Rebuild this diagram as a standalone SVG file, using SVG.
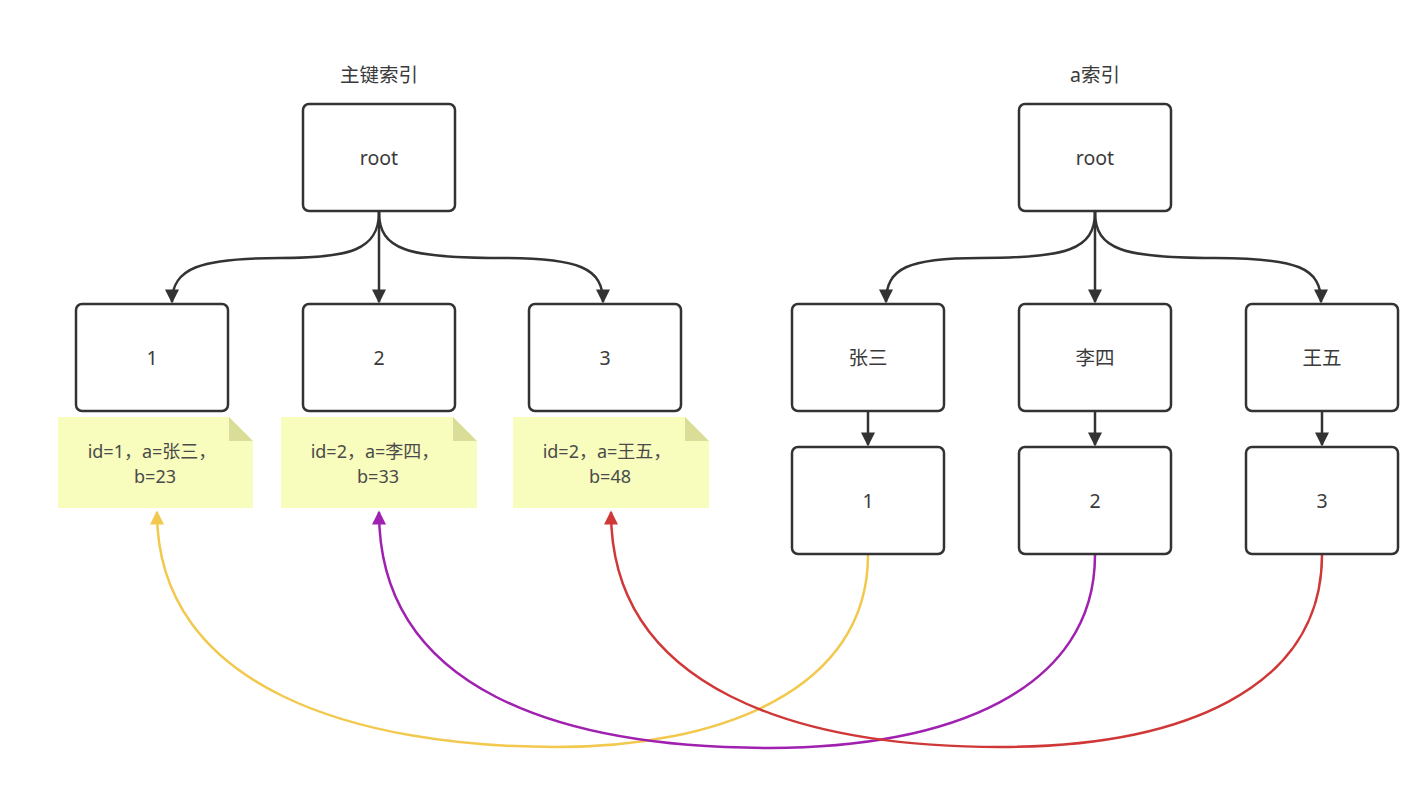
<svg xmlns="http://www.w3.org/2000/svg" width="1424" height="804" viewBox="0 0 1424 804">
<style>
.box{fill:#fff;stroke:#333;stroke-width:2.5}
.t{font-family:"Noto Sans","Noto Sans CJK SC",sans-serif;font-size:19.5px;fill:#3a3a3a;text-anchor:middle;dominant-baseline:central}
.nt{font-family:"Noto Sans","Noto Sans CJK SC",sans-serif;font-size:18px;fill:#4a4a4a;text-anchor:middle}
.note{fill:#f8fcbc}
.fold{fill:#d9dd98}
.c{fill:none;stroke:#333;stroke-width:2.5}
.y{fill:none;stroke:#f2c94e;stroke-width:2.5}
.p{fill:none;stroke:#a020b0;stroke-width:2.5}
.r{fill:none;stroke:#d03838;stroke-width:2.5}
</style>
<defs>
<marker id="ay" viewBox="0 0 10 10" refX="9" refY="5" markerWidth="16" markerHeight="14" markerUnits="userSpaceOnUse" orient="auto"><path d="M0 0L10 5L0 10Z" fill="#f2c94e"/></marker>
<marker id="ap" viewBox="0 0 10 10" refX="9" refY="5" markerWidth="16" markerHeight="14" markerUnits="userSpaceOnUse" orient="auto"><path d="M0 0L10 5L0 10Z" fill="#a020b0"/></marker>
<marker id="ar" viewBox="0 0 10 10" refX="9" refY="5" markerWidth="16" markerHeight="14" markerUnits="userSpaceOnUse" orient="auto"><path d="M0 0L10 5L0 10Z" fill="#d03838"/></marker>
<marker id="ab" viewBox="0 0 10 10" refX="9" refY="5" markerWidth="16" markerHeight="14" markerUnits="userSpaceOnUse" orient="auto"><path d="M0 0L10 5L0 10Z" fill="#333"/></marker>
</defs>
<rect width="1424" height="804" fill="#fff"/>
<text class="t" x="379" y="74">主键索引</text>
<text class="t" x="1095" y="74">a索引</text>

<g id="connectors">
<path class="c" marker-end="url(#ab)" d="M379 212 C379 250 350 258 280 258 C200 258 172 268 172 302"/>
<path class="c" marker-end="url(#ab)" d="M379 212 L379 302"/>
<path class="c" marker-end="url(#ab)" d="M379 212 C379 250 408 258 500 258 C580 258 603 268 603 302"/>
<path class="c" marker-end="url(#ab)" d="M1095 212 C1095 250 1066 258 980 258 C908 258 886 268 886 302"/>
<path class="c" marker-end="url(#ab)" d="M1095 212 L1095 302"/>
<path class="c" marker-end="url(#ab)" d="M1095 212 C1095 250 1124 258 1215 258 C1298 258 1321 268 1321 302"/>
<path class="c" marker-end="url(#ab)" d="M868 411 L868 445"/>
<path class="c" marker-end="url(#ab)" d="M1095 411 L1095 445"/>
<path class="c" marker-end="url(#ab)" d="M1322 411 L1322 445"/>
<path class="y" marker-end="url(#ay)" d="M868 555 C868 690 720 747 556 747 C360 747 157 690 157 512"/>
<path class="p" marker-end="url(#ap)" d="M1095 555 C1095 690 950 748 770 748 C560 748 379 690 379 512"/>
<path class="r" marker-end="url(#ar)" d="M1322 555 C1322 690 1180 747 1000 747 C800 747 611 690 611 512"/>
</g>

<g id="root1"><rect class="box" x="303" y="104" width="152" height="107" rx="6"/><text class="t" x="379" y="157">root</text></g>
<g id="n1"><rect class="box" x="76" y="304" width="152" height="107" rx="6"/><text class="t" x="152" y="357">1</text></g>
<g id="n2"><rect class="box" x="303" y="304" width="152" height="107" rx="6"/><text class="t" x="379" y="357">2</text></g>
<g id="n3"><rect class="box" x="529" y="304" width="152" height="107" rx="6"/><text class="t" x="605" y="357">3</text></g>

<g id="root2"><rect class="box" x="1019" y="104" width="152" height="107" rx="6"/><text class="t" x="1095" y="157">root</text></g>
<g id="a1"><rect class="box" x="792" y="304" width="152" height="107" rx="6"/><text class="t" x="868" y="357">张三</text></g>
<g id="a2"><rect class="box" x="1019" y="304" width="152" height="107" rx="6"/><text class="t" x="1095" y="357">李四</text></g>
<g id="a3"><rect class="box" x="1246" y="304" width="152" height="107" rx="6"/><text class="t" x="1322" y="357">王五</text></g>
<g id="b1"><rect class="box" x="792" y="447" width="152" height="107" rx="6"/><text class="t" x="868" y="500">1</text></g>
<g id="b2"><rect class="box" x="1019" y="447" width="152" height="107" rx="6"/><text class="t" x="1095" y="500">2</text></g>
<g id="b3"><rect class="box" x="1246" y="447" width="152" height="107" rx="6"/><text class="t" x="1322" y="500">3</text></g>

<g id="note1"><path class="note" d="M58 417H229L253 441V508H58Z"/><path class="fold" d="M229 417L253 441H229Z"/><text class="nt" x="152" y="458">id=1，a=张三，</text><text class="nt" x="155" y="483">b=23</text></g>
<g id="note2"><path class="note" d="M281 417H453L477 441V508H281Z"/><path class="fold" d="M453 417L477 441H453Z"/><text class="nt" x="375" y="458">id=2，a=李四，</text><text class="nt" x="378" y="483">b=33</text></g>
<g id="note3"><path class="note" d="M513 417H685L709 441V508H513Z"/><path class="fold" d="M685 417L709 441H685Z"/><text class="nt" x="607" y="458">id=2，a=王五，</text><text class="nt" x="610" y="483">b=48</text></g>
</svg>
